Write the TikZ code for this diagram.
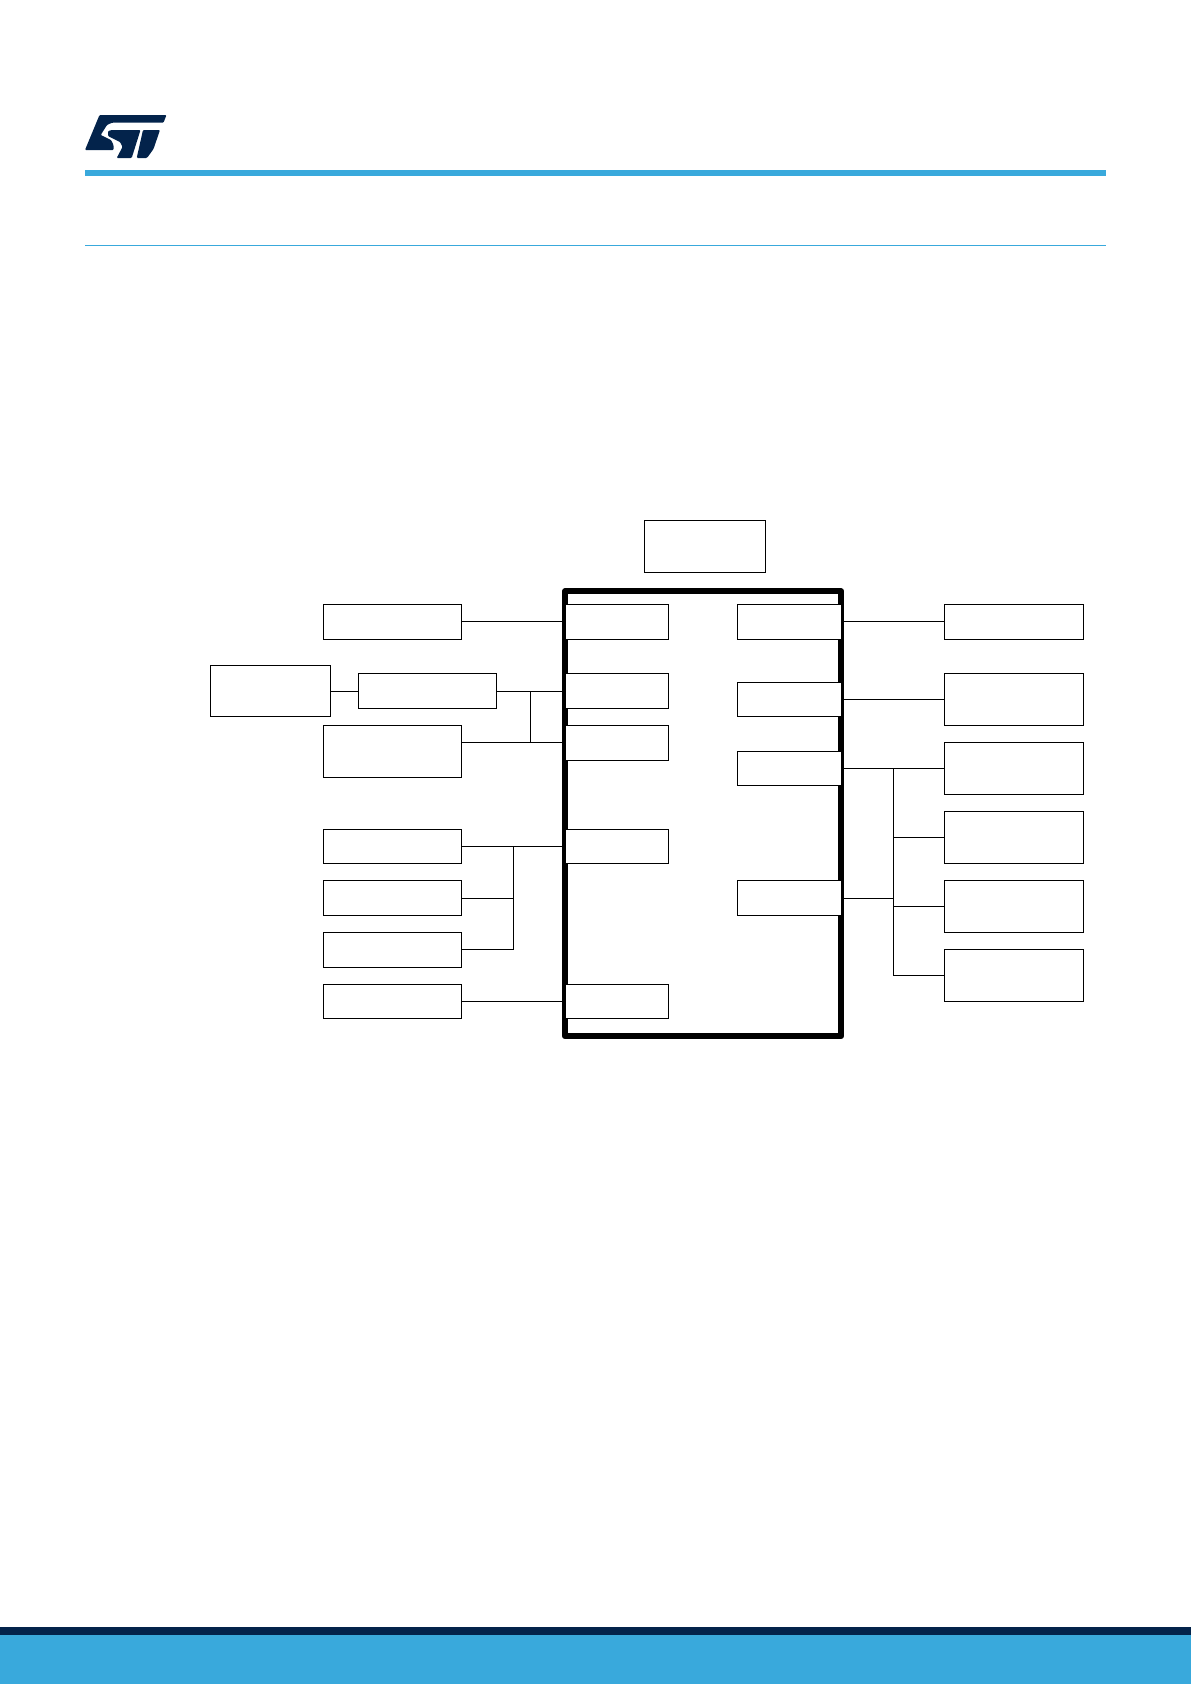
\documentclass[tikz,border=0pt]{standalone}
\definecolor{stblue}{HTML}{39A9DC}
\definecolor{stnavy}{HTML}{03234B}
\tikzset{
  x=0.05cm,y=-0.05cm,
  blockbox/.style n args={2}{draw=black,fill=white,line width=0.05cm,inner sep=0pt,outer sep=0pt,minimum width=#1*0.05cm,minimum height=#2*0.05cm},
  wire/.style={draw=black,line width=0.05cm},
  frameline/.style={draw=black,line width=0.29cm,line join=round},
  logoshape/.style={fill=stnavy,draw=none,rounded corners=0.05cm}
}
\begin{document}
\begin{tikzpicture}
\useasboundingbox (0,0) rectangle (1191,1684);
% header and footer
\fill[stblue] (85,170) rectangle (1105.5,176);
\fill[stblue] (85,244.5) rectangle (1105.5,246.3);
\fill[stnavy] (0,1627) rectangle (1191,1635);
\fill[stblue] (0,1635) rectangle (1191,1684);
% logo
\fill[logoshape] (99.5,115) -- (166.5,115) -- (163.5,122.7) -- (112,122.7) -- (107,125) -- (100.7,135) -- (111,140) -- (113.5,145) -- (113.5,150) -- (85,150) -- cycle;
\fill[logoshape] (112,130) -- (140.5,130) -- (131.7,158) -- (116.7,158) -- (122.5,147) -- (120,142) -- (108,136) -- (108,131) -- cycle;
\fill[logoshape] (143,130) -- (160,130) -- (153.5,149) -- (147,158) -- (136.7,158) -- cycle;
% frame
\draw[frameline] (564.9,591.3) rectangle (841.2,1036.2);
% top
\node[blockbox={121.4}{52}] (top) at (705,546.3) {};
% inner left
\node[blockbox={103}{35}] (il1) at (617.2,621.6) {};
\node[blockbox={103}{35}] (il2) at (617.2,691.2) {};
\node[blockbox={103}{35}] (il3) at (617.2,742.6) {};
\node[blockbox={103}{34}] (il4) at (617.2,846.3) {};
\node[blockbox={103}{34}] (il5) at (617.2,1001.3) {};
% inner right
\node[blockbox={104}{35}] (ir1) at (789.3,621.6) {};
\node[blockbox={104}{34}] (ir2) at (789.3,699.3) {};
\node[blockbox={104}{34}] (ir3) at (789.3,768.3) {};
\node[blockbox={104}{35}] (ir4) at (789.3,898) {};
% outer left
\node[blockbox={120.4}{51}] (far) at (270.5,691.2) {};
\node[blockbox={138}{35}] (la) at (392.5,621.6) {};
\node[blockbox={138}{35}] (lb) at (427.3,691.2) {};
\node[blockbox={138}{52}] (lc) at (392.5,751.3) {};
\node[blockbox={138}{34}] (ld) at (392.5,846.3) {};
\node[blockbox={138}{35}] (le) at (392.5,898) {};
\node[blockbox={138}{35}] (lf) at (392.5,949.6) {};
\node[blockbox={138}{34}] (lg) at (392.5,1001.3) {};
% outer right
\node[blockbox={139.4}{35}] (ra) at (1014,621.6) {};
\node[blockbox={139.4}{52}] (rb) at (1014,699.3) {};
\node[blockbox={139.4}{52}] (rc) at (1014,768.3) {};
\node[blockbox={139.4}{52}] (rd) at (1014,837.3) {};
\node[blockbox={139.4}{52}] (re) at (1014,906.3) {};
\node[blockbox={139.4}{52}] (rf) at (1014,975.3) {};
% junctions
\coordinate (jb) at (530.3,691.2);
\coordinate (jd) at (513.4,846.3);
\coordinate (jr) at (893.3,768.3);
% left connectors
\draw[wire,shorten >=0.185cm] (la.east) -- (il1.west);
\draw[wire] (far.east) -- (lb.west);
\draw[wire,shorten >=0.185cm] (lb.east) -- (il2.west);
\draw[wire,shorten >=0.185cm] (lc.east |- il3.west) -- (il3.west);
\draw[wire] (jb) -- (jb |- il3.west);
\draw[wire,shorten >=0.185cm] (ld.east) -- (il4.west);
\draw[wire] (jd) |- (le.east);
\draw[wire] (jd) |- (lf.east);
\draw[wire,shorten >=0.185cm] (lg.east) -- (il5.west);
% right connectors
\draw[wire] (ir1.east) -- (ra.west);
\draw[wire] (ir2.east) -- (rb.west);
\draw[wire] (ir3.east) -- (rc.west);
\draw[wire] (jr) |- (rd.west);
\draw[wire] (jr) |- (re.west);
\draw[wire] (jr) |- (rf.west);
\draw[wire] (ir4.east) -- (ir4.east -| jr);
\end{tikzpicture}
\end{document}
